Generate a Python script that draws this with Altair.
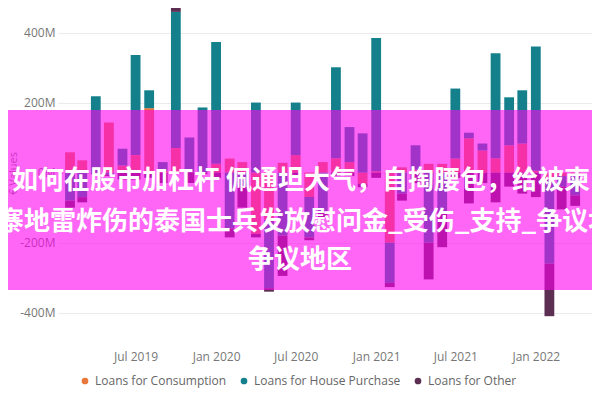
import altair as alt
import pandas as pd

months = [
    "2019-02", "2019-03", "2019-04", "2019-05", "2019-06", "2019-07", "2019-08", "2019-09",
    "2019-10", "2019-11", "2019-12", "2020-01", "2020-02", "2020-03", "2020-04", "2020-05",
    "2020-06", "2020-07", "2020-08", "2020-09", "2020-10", "2020-11", "2020-12", "2021-01",
    "2021-02", "2021-03", "2021-04", "2021-05", "2021-06", "2021-07", "2021-08", "2021-09",
    "2021-10", "2021-11", "2021-12", "2022-01", "2022-02", "2022-03", "2022-04",
]

series = ["Loans for Consumption", "Loans for House Purchase", "Loans for Other"]
colors = ["#E8783A", "#14808C", "#5B2E52"]

consumption = [58, 35, 0, 143, 20, 50, 184, 5, 70, 0, 0, 25, 40, 30, -175, -135, 28, 50, -70, 30,
               41, 30, -32, 4, -200, 15, 8, 25, 25, 40, 98, 63, 41, 78, 83, 5, -20, -10, -5]
house = [-80, -70, 218, -5, 48, 286, 51, 25, 389, 100, 186, 348, -160, -40, 200, -195, -180, 150, -115, -110,
         260, 100, 112, 380, -115, -60, 70, -200, -110, 200, 16, 20, 300, 137, 152, 355, -240, -30, -60]
other = [-20, -15, -5, -5, -20, -20, -15, -30, 14, -30, -5, -15, -25, -60, -10, -10, -115, -15, -8, -17,
         -10, -10, -10, -15, -12, -20, -30, -105, -103, -15, -88, -30, -85, -40, -60, -70, -150, -65, -30]

y_ticks = [-400, -200, 0, 200, 400]

overlay_lines = [
    "如何在股市加杠杆 佩通坦大气，自掏腰包，给被柬",
    "寨地雷炸伤的泰国士兵发放慰问金_受伤_支持_争议地",
    "争议地区",
]

rows = []
for values, name, k in [(consumption, series[0], 0), (house, series[1], 1), (other, series[2], 2)]:
    for m, v in zip(months, values):
        rows.append({"date": m + "-01T00:00:00", "series": name, "k": k, "value": v})
df = pd.DataFrame(rows)

FONT = "Open Sans"

x_ticks = [alt.DateTime(year=y, month=mo, date=1) for y, mo in
           [(2019, 7), (2020, 1), (2020, 7), (2021, 1), (2021, 7), (2022, 1)]]

bars = alt.Chart(df).mark_bar(size=9.8).encode(
    x=alt.X("date:T",
            scale=alt.Scale(domain=[alt.DateTime(year=2019, month=1, date=16),
                                    alt.DateTime(year=2022, month=4, date=28)]),
            axis=alt.Axis(values=x_ticks, format="%b %Y", title=None, grid=False,
                          domain=False, ticks=False, labelPadding=11, labelFontSize=12,
                          labelColor="#777777", labelFont=FONT)),
    y=alt.Y("value:Q", stack="zero",
            scale=alt.Scale(domain=[-478, 470], nice=False, zero=False),
            axis=alt.Axis(values=y_ticks, labelExpr="datum.value + 'M'", title="€ Values",
                          titleX=-45, titleY=165, titleAngle=270, titleAlign="center",
                          titleBaseline="middle", titleFontSize=11, titleFontWeight="normal",
                          titleColor="#888888", titleFont=FONT,
                          domain=False, ticks=False, labelPadding=3, labelFontSize=12,
                          labelColor="#777777", labelFont=FONT,
                          gridColor="#ebebeb", gridWidth=1)),
    color=alt.Color("series:N", scale=alt.Scale(domain=series, range=colors),
                    legend=alt.Legend(orient="none", direction="horizontal", legendX=21, legendY=367,
                                      title=None, symbolType="circle", symbolSize=45,
                                      labelFontSize=12, labelColor="#666666", labelFont=FONT,
                                      columnPadding=11, symbolOffset=0)),
    order=alt.Order("k:Q", sort="ascending"),
)

one = pd.DataFrame({"a": [0]})

band = alt.Chart(one).mark_rect(color="#ff00f0", opacity=0.6).encode(
    x=alt.value(-60), x2=alt.value(545), y=alt.value(102), y2=alt.value(282)
)

def line(txt, x, y, align):
    return alt.Chart(one).mark_text(
        text=txt, color="white", font="Noto Sans CJK SC", fontSize=26, fontWeight="bold",
        align=align, baseline="middle"
    ).encode(x=alt.value(x), y=alt.value(y))

chart = alt.layer(
    bars,
    band,
    line(overlay_lines[0], -46, 173, "left"),
    line(overlay_lines[1], -60, 214, "left"),
    line(overlay_lines[2], 242, 252, "center"),
).properties(
    width=534, height=332,
    autosize=alt.AutoSizeParams(type="none"),
    padding={"left": 50, "top": 0, "right": 0, "bottom": 52},
).configure_view(stroke=None)

chart.save("out.html", embed_options={"renderer": "svg", "actions": False})
